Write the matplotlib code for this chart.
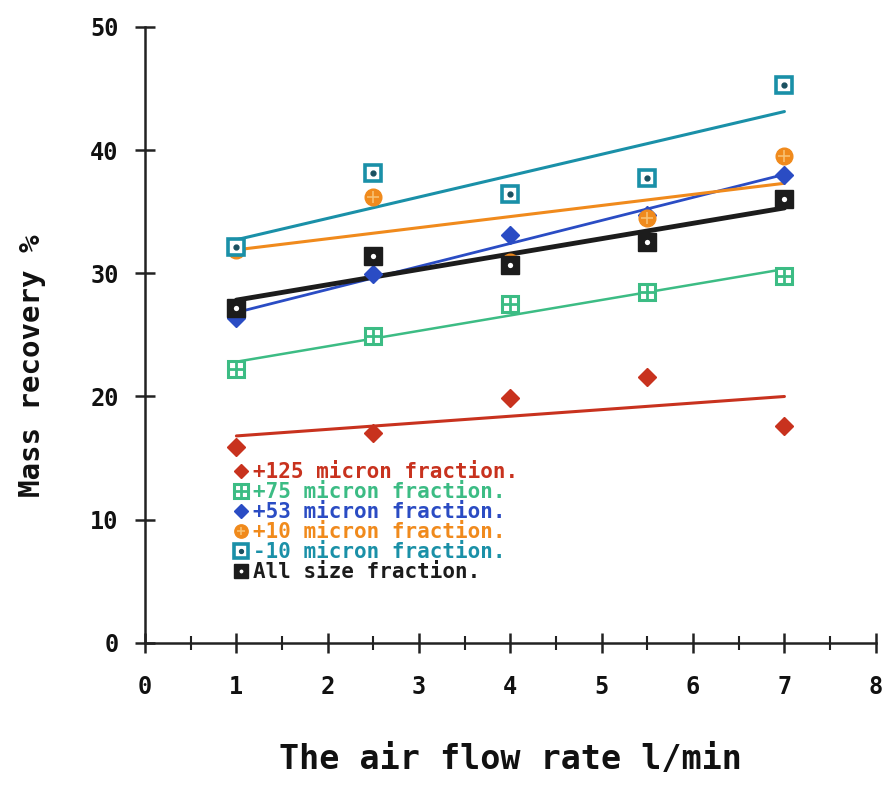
import numpy as np
import matplotlib
matplotlib.use("Agg")
import matplotlib.pyplot as plt
from matplotlib.legend_handler import HandlerTuple
from matplotlib.ticker import MultipleLocator

# ---- data ----
flow = [1, 2.5, 4, 5.5, 7]
frac_125 = [15.9, 17.0, 19.9, 21.6, 17.6]
frac_75 = [22.2, 24.9, 27.5, 28.5, 29.8]
frac_53 = [26.4, 29.9, 33.1, 34.7, 38.0]
frac_10p = [31.9, 36.2, 30.9, 34.5, 39.5]
frac_10m = [32.1, 38.1, 36.4, 37.7, 45.3]
frac_all = [27.2, 31.4, 30.7, 32.5, 36.0]
labels = ["+125 micron fraction.", "+75 micron fraction.", "+53 micron fraction.",
          "+10 micron fraction.", "-10 micron fraction.", "All size fraction."]
xticks = [0, 1, 2, 3, 4, 5, 6, 7, 8]
yticks = [0, 10, 20, 30, 40, 50]

colors = ["#c8321e", "#3cbc84", "#2a4cc4", "#f08a1c", "#1a90a8", "#1c1c1c"]
series = [frac_125, frac_75, frac_53, frac_10p, frac_10m, frac_all]
lws = [2.2, 1.8, 2.0, 2.2, 2.2, 3.5]

fig = plt.figure(figsize=(8.9, 7.87), dpi=100)
ax = fig.add_axes([0.163, 0.183, 0.821, 0.783])

x = np.array(flow, dtype=float)
for i, (ys, c, lw) in enumerate(zip(series, colors, lws)):
    ys = np.array(ys)
    m, b = np.polyfit(x, ys, 1)
    xl = np.array([x.min(), x.max()])
    ax.plot(xl, m * xl + b, color=c, lw=lw, zorder=2 + i * 0.1, solid_capstyle="round")

z = 5
def pts(ys, **kw):
    return ax.plot(flow, ys, linestyle="none", **kw)[0]

# +125: red diamonds
h1 = pts(frac_125, marker="D", ms=9, color=colors[0], mec=colors[0], zorder=z)
# +75: green square with cross
h2a = pts(frac_75, marker="s", ms=12, mfc="white", mec=colors[1], mew=2.2, zorder=z)
h2b = pts(frac_75, marker="+", ms=11, mec=colors[1], mew=2.0, zorder=z)
# +53: blue diamonds
h3 = pts(frac_53, marker="D", ms=9, color=colors[2], mec=colors[2], zorder=z)
# +10: orange circles
h4a = pts(frac_10p, marker="o", ms=12, color=colors[3], mec=colors[3], zorder=z)
h4b = pts(frac_10p, marker="+", ms=8, mec="#f8c070", mew=1.2, zorder=z)
# -10: teal open square with dot
h5a = pts(frac_10m, marker="s", ms=12, mfc="white", mec=colors[4], mew=2.6, zorder=z)
h5b = pts(frac_10m, marker="o", ms=3.5, color="#1a5060", zorder=z)
# All: dark square with hole
h6a = pts(frac_all, marker="s", ms=13, color=colors[5], mec=colors[5], zorder=z + 1)
h6b = pts(frac_all, marker="o", ms=5, mfc="white", mec="#1c1c1c", mew=1.2, zorder=z + 1)

leg_handles = [h1, (h2a, h2b), h3, (h4a, h4b), (h5a, h5b), (h6a, h6b)]
leg = ax.legend(leg_handles, labels, loc="upper left", bbox_to_anchor=(0.105, 0.31),
                frameon=False, handler_map={tuple: HandlerTuple(ndivide=1, pad=0)},
                handlelength=0.8, handletextpad=0.2, labelspacing=0.0, borderpad=0,
                markerscale=0.8, labelcolor=colors,
                prop={"family": "DejaVu Sans Mono", "size": 15, "weight": "bold"})

ax.set_xlim(0, 8)
ax.set_ylim(0, 50)
ax.set_xticks(xticks)
ax.set_yticks(yticks)
ax.xaxis.set_minor_locator(MultipleLocator(0.5))
for s in ["top", "right"]:
    ax.spines[s].set_visible(False)
for s in ["left", "bottom"]:
    ax.spines[s].set_linewidth(1.8)
    ax.spines[s].set_color("#222222")
ax.tick_params(axis="both", which="major", direction="inout", length=14, width=1.8,
               color="#222222", labelsize=17, pad=12)
ax.tick_params(axis="x", which="minor", direction="inout", length=10, width=1.5, color="#222222")
ax.tick_params(axis="x", which="major", pad=16)
for lab in ax.get_xticklabels() + ax.get_yticklabels():
    lab.set_fontweight("bold")
    lab.set_family("DejaVu Sans Mono")
    lab.set_color("#111111")

ax.set_xlabel("The air flow rate l/min", family="DejaVu Sans Mono", fontsize=24,
              color="#111111", va="top", fontweight="bold")
ax.xaxis.set_label_coords(0.5, -0.163)
ax.set_ylabel("Mass recovery %", family="DejaVu Sans Mono", fontsize=21,
              color="#111111", fontweight="bold")
ax.yaxis.set_label_coords(-0.135, 0.45)

fig.savefig("out.png", dpi=100)
